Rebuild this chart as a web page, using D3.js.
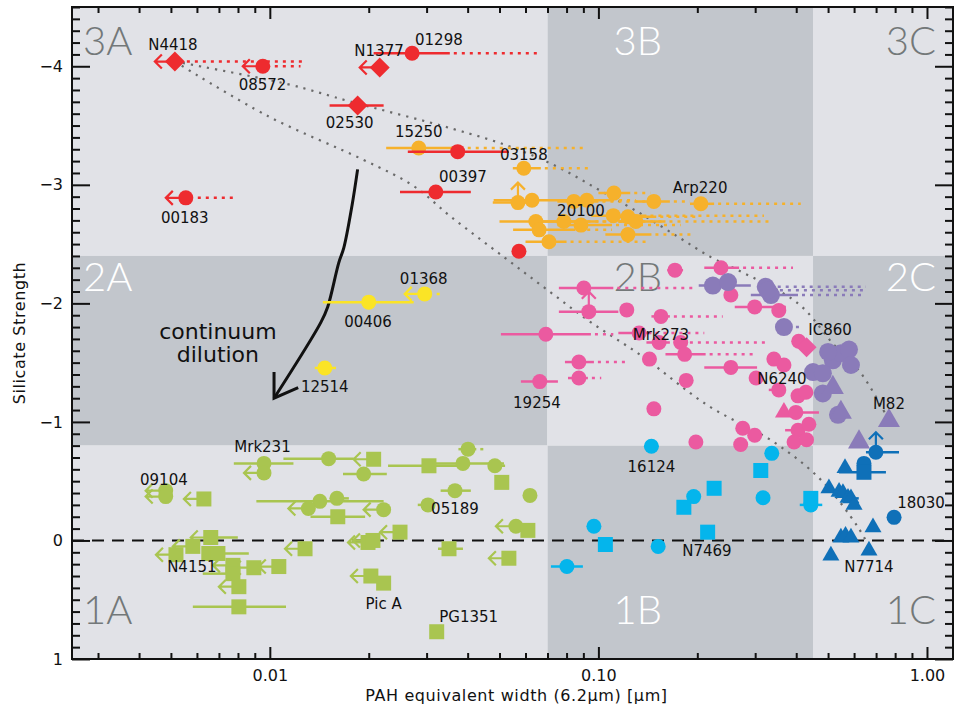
<!DOCTYPE html>
<html>
<head>
<meta charset="utf-8">
<title>Fork diagram</title>
<script src="https://cdn.jsdelivr.net/npm/d3@7"></script>
<style>
  body { margin: 0; background: #fff; }
  text { font-family: "DejaVu Sans", sans-serif; }
</style>
</head>
<body>
<script>

// ---- data: [EW(6.2um), silicate strength, shape, errLo, errHi, dottedTo, limit]
var redPts = [
  [0.00514, -4.04, "d", null, null, 0.0129, "<"],
  [0.00952, -4.00, "o", null, null, 0.0124, "<"],
  [0.0216, -3.99, "d", null, null, null, "<"],
  [0.0271, -4.11, "o", 0.0207, 0.0353, 0.0668, ""],
  [0.0185, -3.67, "d", 0.0152, 0.0222, null, ""],
  [0.00555, -2.89, "o", null, null, 0.00772, "<"],
  [0.0373, -3.28, "o", 0.0263, 0.0534, null, ""],
  [0.0320, -2.94, "o", 0.0249, 0.0409, null, ""],
  [0.0573, -2.44, "o", null, null, 0.061, ""]
];

var orangePts = [
  [0.0284, -3.31, "o", 0.0226, 0.0368, 0.0903, ""],
  [0.0593, -3.14, "o", 0.0549, 0.0668, 0.0935, ""],
  [0.0569, -2.85, "o", 0.0477, 0.065, null, "^"],
  [0.0628, -2.87, "o", 0.048, 0.095, 0.13, ""],
  [0.0842, -2.86, "o", 0.075, 0.10, 0.14, ""],
  [0.0922, -2.87, "o", 0.08, 0.11, null, ""],
  [0.1115, -2.93, "o", 0.10, 0.125, 0.144, ""],
  [0.1475, -2.86, "o", 0.13, 0.165, 0.19, ""],
  [0.205, -2.84, "o", 0.19, 0.225, 0.413, ""],
  [0.0645, -2.69, "o", 0.05, 0.09, 0.12, ""],
  [0.066, -2.62, "o", 0.055, 0.085, 0.11, ""],
  [0.0785, -2.69, "o", 0.065, 0.10, 0.16, ""],
  [0.0885, -2.66, "o", 0.075, 0.11, 0.178, ""],
  [0.111, -2.74, "o", 0.095, 0.14, 0.319, ""],
  [0.123, -2.73, "o", 0.11, 0.15, 0.2, ""],
  [0.130, -2.69, "o", 0.115, 0.16, 0.335, ""],
  [0.123, -2.58, "o", 0.105, 0.145, 0.195, ""],
  [0.0707, -2.52, "o", 0.06, 0.08, 0.141, ""]
];

var yellowPts = [
  [0.020, -2.01, "o", 0.0145, 0.0274, null, ""],
  [0.0296, -2.08, "o", null, null, 0.0339, "<"],
  [0.0147, -1.455, "o", 0.0137, 0.0159, null, ""]
];

var pinkPts = [
  [0.171, -2.28, "o", 0.162, 0.181, null, ""],
  [0.236, -2.30, "o", 0.210, 0.268, 0.391, ""],
  [0.0903, -2.13, "o", 0.0758, 0.111, 0.195, ""],
  [0.0935, -1.93, "o", 0.0758, 0.115, null, "^"],
  [0.122, -1.945, "o", null, null, null, ""],
  [0.155, -1.89, "o", 0.145, 0.165, 0.239, ""],
  [0.0692, -1.74, "o", 0.0505, 0.0949, 0.111, ""],
  [0.133, -1.75, "o", 0.115, 0.145, 0.21, ""],
  [0.153, -1.67, "o", 0.14, 0.165, 0.33, ""],
  [0.178, -1.67, "o", null, null, null, ""],
  [0.183, -1.57, "o", 0.160, 0.212, 0.295, ""],
  [0.143, -1.53, "o", null, 0.15, null, ""],
  [0.0872, -1.505, "o", 0.0791, 0.0969, 0.121, ""],
  [0.0872, -1.37, "o", 0.0808, 0.0929, 0.102, ""],
  [0.0663, -1.34, "o", 0.0581, 0.0753, null, ""],
  [0.253, -1.46, "o", 0.210, 0.304, null, ""],
  [0.185, -1.35, "o", null, null, null, ""],
  [0.1475, -1.11, "o", null, null, null, ""],
  [0.342, -1.53, "o", null, null, null, ""],
  [0.367, -1.48, "o", null, null, null, ""],
  [0.302, -1.37, "o", null, null, null, ""],
  [0.354, -1.27, "o", 0.33, 0.37, null, ""],
  [0.405, -1.22, "o", null, null, null, ""],
  [0.428, -1.25, "o", null, null, null, ""],
  [0.367, -1.08, "t", null, 0.469, null, ""],
  [0.399, -1.08, "o", null, null, null, ""],
  [0.407, -1.68, "o", null, null, null, ""],
  [0.43, -1.63, "d", null, null, null, ""],
  [0.299, -1.97, "o", 0.26, 0.372, null, ""],
  [0.354, -1.94, "o", null, null, null, ""],
  [0.253, -2.07, "o", null, null, null, ""],
  [0.275, -0.947, "o", null, null, null, ""],
  [0.299, -0.888, "o", null, null, null, ""],
  [0.198, -0.83, "o", null, null, null, ""],
  [0.271, -0.81, "o", null, null, null, ""],
  [0.405, -0.93, "o", 0.37, null, null, ""],
  [0.437, -0.98, "o", null, null, null, ""],
  [0.394, -0.83, "o", null, null, null, ""],
  [0.43, -0.85, "o", null, null, null, ""]
];

var purplePts = [
  [0.223, -2.15, "o", 0.202, 0.291, null, ""],
  [0.248, -2.18, "o", null, null, null, ""],
  [0.323, -2.14, "o", null, null, 0.652, ""],
  [0.335, -2.07, "o", 0.291, 0.405, 0.65, ""],
  [0.328, -2.11, "o", null, null, 0.65, ""],
  [0.367, -1.80, "o", null, null, 0.422, ""],
  [0.517, -1.52, "o", null, null, null, ""],
  [0.547, -1.58, "o", null, null, null, ""],
  [0.579, -1.61, "o", null, null, null, ""],
  [0.587, -1.48, "o", null, null, null, ""],
  [0.50, -1.59, "o", null, null, null, ""],
  [0.45, -1.42, "o", null, null, null, ""],
  [0.482, -1.41, "o", null, null, null, ""],
  [0.482, -1.24, "o", null, null, null, ""],
  [0.517, -1.29, "t", null, null, null, ""],
  [0.536, -1.06, "o", null, null, null, ""],
  [0.547, -1.08, "t", null, null, null, ""],
  [0.766, -1.01, "t", null, null, null, ""],
  [0.621, -0.83, "t", null, null, null, ""]
];

var cyanPts = [
  [0.145, -0.795, "o", 0.138, 0.152, null, ""],
  [0.337, -0.735, "o", null, null, null, ""],
  [0.312, -0.59, "s", null, null, null, ""],
  [0.317, -0.36, "o", null, null, null, ""],
  [0.195, -0.37, "o", null, null, null, ""],
  [0.182, -0.28, "s", null, null, null, ""],
  [0.225, -0.44, "s", null, null, null, ""],
  [0.215, -0.07, "s", null, null, null, ""],
  [0.0969, -0.12, "o", null, null, null, ""],
  [0.105, 0.034, "s", null, null, null, ""],
  [0.152, 0.05, "o", null, null, null, ""],
  [0.0802, 0.22, "o", 0.0717, 0.0897, null, ""],
  [0.443, -0.30, "o", 0.41, 0.48, null, ""],
  [0.443, -0.355, "s", null, null, null, ""]
];

var bluePts = [
  [0.699, -0.744, "o", 0.652, 0.822, null, "^"],
  [0.643, -0.65, "o", null, null, null, ""],
  [0.643, -0.575, "s", 0.540, 0.75, null, ""],
  [0.563, -0.61, "t", null, null, null, ""],
  [0.503, -0.44, "t", null, null, null, ""],
  [0.54, -0.41, "t", null, null, null, ""],
  [0.555, -0.40, "t", null, null, null, ""],
  [0.575, -0.36, "t", null, null, null, ""],
  [0.587, -0.355, "t", null, 0.62, null, ""],
  [0.600, -0.30, "t", null, null, null, ""],
  [0.547, -0.025, "t", null, null, null, ""],
  [0.565, -0.04, "t", null, null, null, ""],
  [0.587, -0.025, "t", null, null, null, ""],
  [0.685, -0.11, "t", null, null, null, ""],
  [0.666, 0.085, "t", null, null, null, ""],
  [0.51, 0.127, "t", null, null, null, ""],
  [0.794, -0.195, "o", null, null, null, ""]
];

var greenPts = [
  [0.00482, -0.42, "o", null, null, null, "<"],
  [0.00482, -0.37, "o", null, null, null, "<"],
  [0.0063, -0.35, "s", null, null, null, "<"],
  [0.0096, -0.65, "o", 0.00777, 0.0118, null, ""],
  [0.0096, -0.57, "o", null, null, null, "<"],
  [0.0151, -0.69, "o", 0.0110, 0.018, null, ""],
  [0.0207, -0.685, "s", null, null, null, "<"],
  [0.0193, -0.56, "o", 0.0167, 0.0227, null, ""],
  [0.0305, -0.63, "s", 0.0229, 0.0381, null, ""],
  [0.0387, -0.65, "o", 0.0309, 0.0516, null, ""],
  [0.0401, -0.77, "o", 0.0375, 0.0425, 0.045, ""],
  [0.0484, -0.63, "o", null, 0.052, null, ""],
  [0.0508, -0.49, "s", null, null, null, ""],
  [0.0366, -0.42, "o", 0.0331, 0.0409, null, ""],
  [0.0619, -0.38, "o", null, null, null, ""],
  [0.0303, -0.30, "o", 0.0282, null, null, ""],
  [0.0561, -0.12, "o", null, null, null, "<"],
  [0.0610, -0.085, "s", null, null, null, ""],
  [0.0534, 0.15, "s", null, null, null, "<"],
  [0.0351, 0.07, "s", 0.0325, 0.0387, null, ""],
  [0.0249, -0.07, "s", null, null, null, "<"],
  [0.0199, 0.017, "s", null, null, null, "<"],
  [0.0206, 0.0, "s", null, null, null, "<"],
  [0.0128, 0.07, "s", null, null, null, "<"],
  [0.0203, 0.30, "s", null, null, null, "<"],
  [0.0222, 0.36, "s", null, null, null, ""],
  [0.0322, 0.77, "s", 0.0312, 0.0333, null, ""],
  [0.0142, -0.33, "o", 0.0091, 0.0222, null, ""],
  [0.016, -0.355, "o", null, 0.0174, null, ""],
  [0.0131, -0.27, "o", null, null, null, "<"],
  [0.0222, -0.26, "o", null, null, null, "<"],
  [0.0161, -0.20, "s", 0.0133, 0.0195, null, ""],
  [0.00661, -0.025, "s", null, 0.00799, null, "<"],
  [0.00583, 0.05, "s", null, null, null, "<"],
  [0.00518, 0.12, "s", null, null, null, "<"],
  [0.00652, 0.11, "s", null, null, null, ""],
  [0.00695, 0.11, "s", null, 0.00863, null, ""],
  [0.00772, 0.21, "s", null, null, null, "<"],
  [0.00894, 0.23, "s", null, null, null, "<"],
  [0.01065, 0.22, "s", null, null, null, "<"],
  [0.00772, 0.28, "s", 0.00625, null, null, ""],
  [0.00805, 0.39, "s", null, null, null, "<"],
  [0.00805, 0.56, "s", 0.00583, 0.0112, null, ""]
];

// object names: [text, EW, silicate strength] (centre / baseline)
var nameLabels = [
  ["N4418", 0.00507, -4.14], ["08572", 0.0095, -3.80], ["N1377", 0.0215, -4.09],
  ["01298", 0.0327, -4.18], ["02530", 0.0175, -3.48], ["15250", 0.0284, -3.40],
  ["03158", 0.0593, -3.21], ["00397", 0.0387, -3.02], ["00183", 0.00551, -2.68],
  ["Arp220", 0.204, -2.93], ["20100", 0.0885, -2.74], ["01368", 0.0294, -2.16],
  ["00406", 0.0199, -1.80], ["12514", 0.0147, -1.25], ["Mrk273", 0.155, -1.69],
  ["19254", 0.065, -1.12], ["IC860", 0.507, -1.73], ["N6240", 0.362, -1.32],
  ["M82", 0.766, -1.11], ["Mrk231", 0.0095, -0.744], ["09104", 0.00476, -0.465],
  ["05189", 0.0366, -0.22], ["N4151", 0.00579, 0.27], ["Pic A", 0.0222, 0.575],
  ["PG1351", 0.0403, 0.685], ["16124", 0.145, -0.58], ["N7469", 0.214, 0.135],
  ["18030", 0.959, -0.27], ["N7714", 0.666, 0.27]
];

// class boundaries
var ewBounds = [0.0025, 0.07, 0.45, 1.2];
var ssBounds = [-4.5, -2.4, -0.8, 1];
var classRows = ["3", "2", "1"];
var classCols = ["A", "B", "C"];

// fork guide lines and continuum dilution track
var forkUpper = [[0.00514,-4.04],[0.0113,-3.85],[0.0177,-3.70],[0.0363,-3.47],[0.0542,-3.32],
  [0.0753,-3.15],[0.1,-2.96],[0.132,-2.77],[0.175,-2.56],[0.220,-2.39],[0.266,-2.28],
  [0.405,-2.00],[0.521,-1.65],[0.630,-1.41],[0.750,-1.06]];
var forkLower = [[0.00514,-4.04],[0.00986,-3.58],[0.0193,-3.21],[0.0274,-2.99],[0.0356,-2.73],
  [0.0516,-2.39],[0.0702,-2.11],[0.0949,-1.84],[0.135,-1.56],[0.215,-1.14],[0.342,-0.83],
  [0.476,-0.51],[0.617,-0.11],[0.675,0.08]];
var dilution = [[0.0185,-3.13],[0.0178,-2.83],[0.0168,-2.47],[0.0162,-2.34],[0.0150,-1.97],
  [0.0143,-1.84],[0.0103,-1.20]];
var dilutionHead = [[0.0103,-1.42],[0.0103,-1.20],[0.0122,-1.29]];

var xMajor = [0.01, 0.1, 1];
var xMajorLabels = ["0.01", "0.10", "1.00"];
var yMajor = [-4, -3, -2, -1, 0, 1];

// ---- layout
var w = 956, h = 713;
var plotL = 72, plotR = 953, plotT = 7, plotB = 659;

var svg = d3.select("body").append("svg")
    .attr("width", w)
    .attr("height", h);

var x = d3.scaleLog().domain([0.0025, 1.2]).range([plotL, plotR]);
var y = d3.scaleLinear().domain([-4.5, 1]).range([plotT, plotB]);

var light = "#e1e2e7", dark = "#c2c6cc";

// background checkerboard
for (var r = 0; r < 3; r++) {
  for (var c = 0; c < 3; c++) {
    var isDark = (r + c) % 2 == 1;
    svg.append("rect")
        .attr("x", x(ewBounds[c]))
        .attr("y", y(ssBounds[r]))
        .attr("width", x(ewBounds[c + 1]) - x(ewBounds[c]))
        .attr("height", y(ssBounds[r + 1]) - y(ssBounds[r]))
        .style("fill", isDark ? dark : light);

    var lx = c == 0 ? x(ewBounds[0]) + 11 : (c == 1 ? x(ewBounds[1]) + 66 : x(ewBounds[3]) - 17);
    var ly = r == 0 ? y(ssBounds[0]) + 48 : (r == 1 ? y(ssBounds[1]) + 35 : y(ssBounds[3]) - 35);
    svg.append("text")
        .attr("x", lx)
        .attr("y", ly)
        .style("text-anchor", c == 2 ? "end" : "start")
        .style("font-family", "Lato, 'DejaVu Sans', sans-serif")
        .style("font-weight", 300)
        .style("font-size", "40px")
        .style("fill", isDark ? "#ffffff" : "#737879")
        .text(classRows[r] + classCols[c]);
  }
}

// zero line
svg.append("line")
    .attr("x1", plotL).attr("x2", plotR)
    .attr("y1", y(0)).attr("y2", y(0))
    .style("stroke", "#111")
    .style("stroke-width", 2)
    .style("stroke-dasharray", "12,8");

var line = d3.line()
    .x(function(d) { return x(d[0]); })
    .y(function(d) { return y(d[1]); });
var smooth = d3.line()
    .x(function(d) { return x(d[0]); })
    .y(function(d) { return y(d[1]); })
    .curve(d3.curveCatmullRom);

// fork
[forkUpper, forkLower].forEach(function(f) {
  svg.append("path")
      .attr("d", smooth(f))
      .style("fill", "none")
      .style("stroke", "#6a6a6a")
      .style("stroke-width", 2.2)
      .style("stroke-dasharray", "2.2,6");
});

// continuum dilution arrow
svg.append("path")
    .attr("d", smooth(dilution))
    .style("fill", "none").style("stroke", "#111").style("stroke-width", 3);
svg.append("path")
    .attr("d", line(dilutionHead))
    .style("fill", "none").style("stroke", "#111").style("stroke-width", 3);
svg.append("text")
    .attr("x", x(0.00695)).attr("y", y(-1.70))
    .style("text-anchor", "middle").style("font-size", "22px").style("fill", "#111")
    .text("continuum");
svg.append("text")
    .attr("x", x(0.00695)).attr("y", y(-1.505))
    .style("text-anchor", "middle").style("font-size", "22px").style("fill", "#111")
    .text("dilution");

// one group of objects
function drawGroup(pts, color, rad, triSide) {
  var g = svg.append("g");
  pts.forEach(function(d) {
    var cx = x(d[0]), cy = y(d[1]);
    var lo = d[3] != null ? x(d[3]) : cx;
    var hi = d[4] != null ? x(d[4]) : cx;
    if (lo != hi) {
      g.append("line").attr("x1", lo).attr("x2", hi).attr("y1", cy).attr("y2", cy)
          .style("stroke", color).style("stroke-width", 2.5);
    }
    if (d[5] != null) {
      g.append("line").attr("x1", hi + 4).attr("x2", x(d[5])).attr("y1", cy).attr("y2", cy)
          .style("stroke", color).style("stroke-width", 2.5)
          .style("stroke-dasharray", "3,5");
    }
    if (d[6] == "<") {
      g.append("path")
          .attr("d", "M" + cx + "," + cy + "H" + (cx - 20) +
                     "M" + (cx - 13) + "," + (cy - 7) + "L" + (cx - 20) + "," + cy + "L" + (cx - 13) + "," + (cy + 7))
          .style("fill", "none").style("stroke", color).style("stroke-width", 2.2);
    }
    if (d[6] == "^") {
      g.append("path")
          .attr("d", "M" + cx + "," + cy + "V" + (cy - 20) +
                     "M" + (cx - 7) + "," + (cy - 13) + "L" + cx + "," + (cy - 20) + "L" + (cx + 7) + "," + (cy - 13))
          .style("fill", "none").style("stroke", color).style("stroke-width", 2.2);
    }
  });

  g.selectAll(".mark")
      .data(pts)
      .enter()
      .append("path")
      .attr("class", "mark")
      .attr("transform", function(d) { return "translate(" + x(d[0]) + "," + y(d[1]) + ")"; })
      .attr("d", function(d) {
        if (d[2] == "s") return d3.symbol().type(d3.symbolSquare).size(4 * rad * rad)();
        if (d[2] == "d") return "M0,-10L10,0L0,10L-10,0Z";
        if (d[2] == "t") return d3.symbol().type(d3.symbolTriangle).size(Math.sqrt(3) / 4 * triSide * triSide)();
        return d3.symbol().type(d3.symbolCircle).size(Math.PI * rad * rad)();
      })
      .style("fill", color);
}

drawGroup(greenPts, "#a9c550", 7.5, 17);
drawGroup(yellowPts, "#fbe426", 7.5, 17);
drawGroup(orangePts, "#f6b12b", 7.5, 17);
drawGroup(redPts, "#ee2b2f", 7.5, 17);
drawGroup(pinkPts, "#eb5aa0", 7.5, 18);
drawGroup(purplePts, "#8a7bb9", 9, 22);
drawGroup(cyanPts, "#04b5ec", 7.5, 17);
drawGroup(bluePts, "#0f70b8", 7.5, 17);

// object names
svg.selectAll(".name")
    .data(nameLabels)
    .enter()
    .append("text")
    .attr("class", "name")
    .attr("x", function(d) { return x(d[1]); })
    .attr("y", function(d) { return y(d[2]); })
    .style("text-anchor", "middle")
    .style("font-size", "15px")
    .style("fill", "#111")
    .text(function(d) { return d[0]; });

// axes (ticks inward)
var yMinor = d3.range(-45, 11).map(function(v) { return v / 10; })
    .filter(function(v) { return yMajor.indexOf(v) < 0; });
var xMinor = [];
[0.001, 0.01, 0.1, 1].forEach(function(dec) {
  for (var k = 2; k <= 9; k++) {
    var v = +(dec * k).toPrecision(3);
    if (v >= 0.0025 && v <= 1.2) xMinor.push(v);
  }
});

function styleAxis(g) {
  g.select(".domain").remove();
  g.selectAll("line").style("stroke", "#111").style("stroke-width", 2);
  g.selectAll("text").style("font-family", "'DejaVu Sans', sans-serif").style("font-size", "16px").style("fill", "#111");
}

svg.append("g").attr("transform", "translate(0," + plotB + ")")
    .call(d3.axisBottom(x).tickValues(xMajor).tickSize(-12).tickPadding(11)
      .tickFormat(function(d, i) { return xMajorLabels[i]; }))
    .call(styleAxis);
svg.append("g").attr("transform", "translate(0," + plotB + ")")
    .call(d3.axisBottom(x).tickValues(xMinor).tickSize(-6).tickFormat(""))
    .call(styleAxis);
svg.append("g").attr("transform", "translate(0," + plotT + ")")
    .call(d3.axisTop(x).tickValues(xMajor).tickSize(-12).tickFormat(""))
    .call(styleAxis);
svg.append("g").attr("transform", "translate(0," + plotT + ")")
    .call(d3.axisTop(x).tickValues(xMinor).tickSize(-6).tickFormat(""))
    .call(styleAxis);

svg.append("g").attr("transform", "translate(" + plotL + ",0)")
    .call(d3.axisLeft(y).tickValues(yMajor).tickSize(-18).tickPadding(9)
      .tickFormat(d3.format("d")))
    .call(styleAxis);
svg.append("g").attr("transform", "translate(" + plotL + ",0)")
    .call(d3.axisLeft(y).tickValues(yMinor).tickSize(-8).tickFormat(""))
    .call(styleAxis);
svg.append("g").attr("transform", "translate(" + plotR + ",0)")
    .call(d3.axisRight(y).tickValues(yMajor).tickSize(-18).tickFormat(""))
    .call(styleAxis);
svg.append("g").attr("transform", "translate(" + plotR + ",0)")
    .call(d3.axisRight(y).tickValues(yMinor).tickSize(-8).tickFormat(""))
    .call(styleAxis);

// frame
svg.append("rect")
    .attr("x", plotL).attr("y", plotT)
    .attr("width", plotR - plotL).attr("height", plotB - plotT)
    .style("fill", "none").style("stroke", "#111").style("stroke-width", 2);

// axis titles
svg.append("text")
    .attr("x", (plotL + plotR) / 2 + 4)
    .attr("y", 701)
    .style("text-anchor", "middle")
    .style("font-size", "16px")
    .style("letter-spacing", "0.6px")
    .style("fill", "#111")
    .text("PAH equivalent width (6.2\u03bcm) [\u03bcm]");

svg.append("text")
    .attr("transform", "translate(25," + (plotT + plotB) / 2 + ") rotate(-90)")
    .style("text-anchor", "middle")
    .style("font-size", "16px")
    .style("letter-spacing", "0.6px")
    .style("fill", "#111")
    .text("Silicate Strength");

</script>
</body>
</html>
